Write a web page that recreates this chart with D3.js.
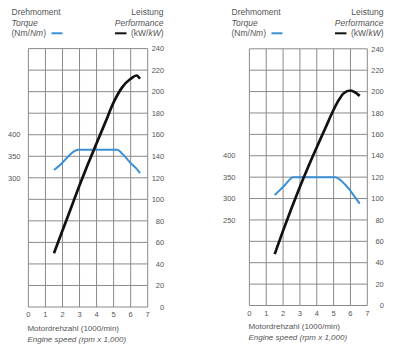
<!DOCTYPE html>
<html><head><meta charset="utf-8">
<script src="https://cdn.jsdelivr.net/npm/d3@7"></script>
<style>
html,body{margin:0;padding:0;background:#fff;}
svg{display:block;font-family:"Liberation Sans",Arial,sans-serif;}
</style></head>
<body>
<script>
// ---- data ----
const rpmTicks = [0,1,2,3,4,5,6,7];
const kwTicks = [0,20,40,60,80,100,120,140,160,180,200,220,240];
const leftTorqueTicks = [300,350,400];
const rightTorqueTicks = [250,300,350,400];

const leftPowerRpm = [1.5,2,2.5,3,3.5,4,4.5,5,5.5,6,6.35,6.55];
const leftPowerKw  = [50,71,92,113,133,152,171,190,204,212,215,212];
const leftTorqueRpm = [1.5,2,2.25,2.5,2.93,5.19,5.6,6,6.3,6.55];
const leftTorqueNm  = [318,335,346,356,365,365,352,334,323,311];

const rightPowerRpm = [1.5,2,2.5,3,3.5,4,4.5,5,5.3,5.6,6,6.3,6.55];
const rightPowerKw  = [48,70,91,111,130,148,165.5,183,192,198.5,201,199,196];
const rightTorqueRpm = [1.5,2.1,2.6,5.1,5.5,5.9,6.2,6.55];
const rightTorqueNm  = [308,331,350,350,340,323,307,288];

const W = 400, H = 351;
const svg = d3.select("body").append("svg").attr("width",W).attr("height",H);

function panel(cfg){
  const g = svg.append("g");
  const x = d3.scaleLinear().domain([0,7]).range([cfg.x0,cfg.x1]);
  const y = d3.scaleLinear().domain([0,240]).range([cfg.yb,cfg.yt]);
  const yT = d3.scaleLinear().domain([300,400]).range([y(cfg.t300kw), y(cfg.t300kw+40)]);
  const grid = "#8a8a8a", txt = "#555";

  // grid
  g.selectAll(".vg").data(rpmTicks).enter().append("line")
    .attr("x1",d=>x(d)).attr("x2",d=>x(d)).attr("y1",y(0)).attr("y2",y(240))
    .attr("stroke",grid).attr("stroke-width",1);
  g.selectAll(".hg").data(kwTicks).enter().append("line")
    .attr("x1",x(0)).attr("x2",x(7)).attr("y1",d=>y(d)).attr("y2",d=>y(d))
    .attr("stroke",grid).attr("stroke-width",1);

  // x labels
  g.selectAll(".xl").data(rpmTicks).enter().append("text")
    .attr("x",d=>x(d)).attr("y",y(0)+10).attr("text-anchor","middle")
    .attr("font-size",7.5).attr("fill",txt).text(d=>d);
  // kW labels
  g.selectAll(".kl").data(kwTicks).enter().append("text")
    .attr("x",x(7)+16.5).attr("y",d=>y(d)+2.7).attr("text-anchor","end")
    .attr("font-size",7.5).attr("fill",txt).text(d=>d);
  // torque labels
  g.selectAll(".tl").data(cfg.tTicks).enter().append("text")
    .attr("x",cfg.tLabelX).attr("y",d=>yT(d)+2.7).attr("text-anchor","end")
    .attr("font-size",7.5).attr("fill",txt).text(d=>d);

  // curves
  const line = d3.line().curve(d3.curveMonotoneX);
  const pPts = cfg.pRpm.map((r,i)=>[x(r), y(cfg.pKw[i])]);
  const tPts = cfg.tRpm.map((r,i)=>[x(r), yT(cfg.tNm[i])]);
  g.append("path").attr("d",line(tPts)).attr("fill","none")
    .attr("stroke","#3b8fd4").attr("stroke-width",2);
  g.append("path").attr("d",line(pPts)).attr("fill","none")
    .attr("stroke","#111").attr("stroke-width",2.7).attr("stroke-linecap","butt");

  // headers
  const hs = 8.5;
  g.append("text").attr("x",cfg.hl).attr("y",14.5).attr("font-size",hs).attr("fill",txt).text("Drehmoment");
  g.append("text").attr("x",cfg.hl).attr("y",25.5).attr("font-size",hs).attr("fill",txt).attr("font-style","italic").text("Torque");
  const t3 = g.append("text").attr("x",cfg.hl).attr("y",36).attr("font-size",hs).attr("fill",txt);
  t3.append("tspan").text("(Nm/");
  t3.append("tspan").attr("font-style","italic").text("Nm");
  t3.append("tspan").text(")");
  g.append("line").attr("x1",cfg.hl+40).attr("x2",cfg.hl+51).attr("y1",33.3).attr("y2",33.3)
    .attr("stroke","#3b8fd4").attr("stroke-width",2);

  g.append("text").attr("x",cfg.hr).attr("y",14.5).attr("font-size",hs).attr("fill",txt).attr("text-anchor","end").text("Leistung");
  g.append("text").attr("x",cfg.hr).attr("y",25.5).attr("font-size",hs).attr("fill",txt).attr("text-anchor","end").attr("font-style","italic").text("Performance");
  const t4 = g.append("text").attr("x",cfg.hr).attr("y",36).attr("font-size",hs).attr("fill",txt).attr("text-anchor","end");
  t4.append("tspan").text("(kW/");
  t4.append("tspan").attr("font-style","italic").text("kW");
  t4.append("tspan").text(")");
  g.append("line").attr("x1",cfg.hr-48.5).attr("x2",cfg.hr-37).attr("y1",33.3).attr("y2",33.3)
    .attr("stroke","#111").attr("stroke-width",2);

  // axis titles
  g.append("text").attr("x",cfg.x0-1).attr("y",y(0)+23.5).attr("font-size",8).attr("fill",txt).text("Motordrehzahl (1000/min)");
  g.append("text").attr("x",cfg.x0-1).attr("y",y(0)+34.5).attr("font-size",8).attr("fill",txt).attr("font-style","italic").text("Engine speed (rpm x 1,000)");
}

panel({x0:28.4,x1:147.7,yt:48.6,yb:307,t300kw:120,tTicks:leftTorqueTicks,tLabelX:20.5,
  pRpm:leftPowerRpm,pKw:leftPowerKw,tRpm:leftTorqueRpm,tNm:leftTorqueNm,hl:11.5,hr:163.5});
panel({x0:249.4,x1:367.3,yt:48.8,yb:305.5,t300kw:100,tTicks:rightTorqueTicks,tLabelX:235.5,
  pRpm:rightPowerRpm,pKw:rightPowerKw,tRpm:rightTorqueRpm,tNm:rightTorqueNm,hl:231.5,hr:383.5});
</script>
</body></html>
